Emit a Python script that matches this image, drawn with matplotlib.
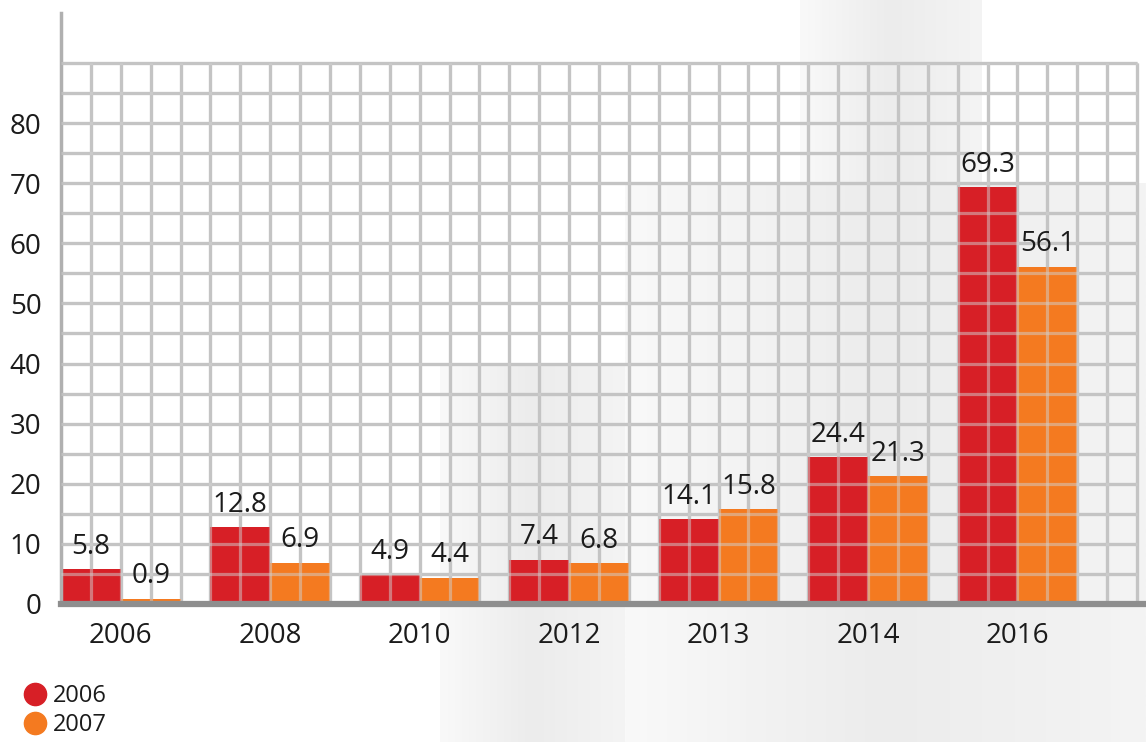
import matplotlib
matplotlib.use("Agg")
import matplotlib.pyplot as plt
import numpy as np
from matplotlib.lines import Line2D
from matplotlib.colors import LinearSegmentedColormap

plt.rcParams['font.family'] = ['Open Sans', 'DejaVu Sans']

# groups along the x axis and the two series
years = ['2006', '2008', '2010', '2012', '2013', '2014', '2016']
vals_2006 = [5.8, 12.8, 4.9, 7.4, 14.1, 24.4, 69.3]
vals_2007 = [0.9, 6.9, 4.4, 6.8, 15.8, 21.3, 56.1]
series_names = ['2006', '2007']

red = '#d71f26'
orange = '#f47a20'
gridc = '#b9b9b9'
txt = '#1b1b1b'

fig = plt.figure(figsize=(11.46, 7.42), dpi=100)

# soft grey panels in the background
bg = fig.add_axes([0, 0, 1, 1], zorder=-5)
bg.set_xlim(0, 1146)
bg.set_ylim(742, 0)
bg.axis('off')
shade = LinearSegmentedColormap.from_list('shade', ['#f9f9f9', '#ececec', '#f4f4f4'])
grad = np.linspace(0, 1, 200).reshape(1, -1)
panels = [(800, 982, 0, 185), (625, 1146, 183, 742), (440, 625, 363, 742)]
for x0, x1, y0, y1 in panels:
    bg.imshow(grad, extent=(x0, x1, y1, y0), cmap=shade,
              aspect='auto', interpolation='bilinear')

ax = fig.add_axes([61 / 1146, 1 - 604 / 742, 1085 / 1146, 591 / 742])
ax.patch.set_alpha(0)

x = np.arange(len(years)) * 5
ax.bar(x + 1, vals_2006, width=2, color=red, zorder=2)
ax.bar(x + 3, vals_2007, width=2, color=orange, zorder=2)

# grid: solid underneath, translucent copy on top of the bars
hy = np.arange(5, 95, 5)
vx = np.arange(1, 37)
ax.hlines(hy, 0, 36, color=gridc, lw=2.3, zorder=1)
ax.vlines(vx, 0, 90, color=gridc, lw=2.3, zorder=1)
ax.hlines(hy, 0, 36, color='#d0d0d0', lw=2.3, alpha=0.5, zorder=3)
ax.vlines(vx, 0, 90, color='#d0d0d0', lw=2.3, alpha=0.5, zorder=3)

for xi, v in zip(x + 1, vals_2006):
    ax.annotate(f'{v}', (xi, v), xytext=(0, 6), textcoords='offset points',
                ha='center', va='bottom', fontsize=20, color=txt, zorder=4)
for xi, v in zip(x + 3, vals_2007):
    ax.annotate(f'{v}', (xi, v), xytext=(0, 6), textcoords='offset points',
                ha='center', va='bottom', fontsize=20, color=txt, zorder=4)

ax.set_xlim(0, 36.3)
ax.set_ylim(0, 98.3)
ax.set_xticks(x + 2)
ax.set_xticklabels(years)
ax.set_yticks(np.arange(0, 90, 10))
ax.tick_params(length=0, labelsize=20, labelcolor=txt)
ax.tick_params(axis='x', pad=13)
ax.tick_params(axis='y', pad=14)

for s in ['top', 'right']:
    ax.spines[s].set_visible(False)
ax.spines['bottom'].set_color('#8e8e8e')
ax.spines['bottom'].set_linewidth(4.5)
ax.spines['bottom'].set_zorder(5)
ax.spines['left'].set_color('#b0b0b0')
ax.spines['left'].set_linewidth(2.5)

handles = [Line2D([], [], ls='none', marker='o', ms=16, color=c)
           for c in (red, orange)]
fig.legend(handles, series_names, loc='upper left', bbox_to_anchor=(0.018, 0.078),
           frameon=False, fontsize=17, handletextpad=0.15, labelspacing=0.2,
           handlelength=1.2, borderpad=0, borderaxespad=0, labelcolor=txt)

fig.savefig('out.png', dpi=100)
